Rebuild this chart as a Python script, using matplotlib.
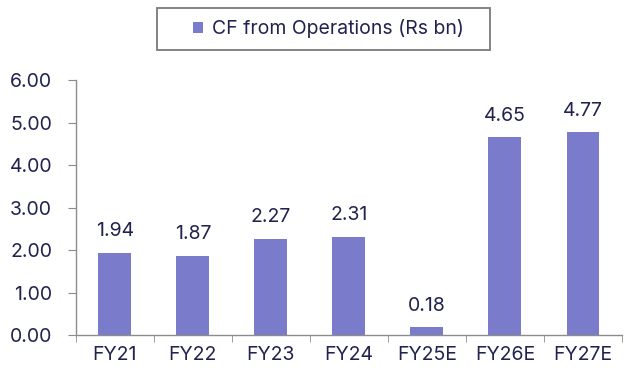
import matplotlib
matplotlib.use("Agg")
import matplotlib.pyplot as plt
from matplotlib.ticker import FixedLocator, NullFormatter
from matplotlib.patches import Patch, Rectangle

categories = ["FY21", "FY22", "FY23", "FY24", "FY25E", "FY26E", "FY27E"]
cfo = [1.94, 1.87, 2.27, 2.31, 0.18, 4.65, 4.77]
yticks = [0, 1, 2, 3, 4, 5, 6]

bar_color = "#7B7BCB"
text_color = "#22224E"
axis_color = "#8C8C8C"
fs = 14

plt.rcParams["font.family"] = ["Inter", "DejaVu Sans"]

fig = plt.figure(figsize=(6.32, 3.76), dpi=100)
ax = fig.add_axes([0.120, 0.109, 0.864, 0.678])

x = list(range(len(categories)))
ax.bar(x, cfo, width=0.42, color=bar_color, zorder=2)
for xi, v in zip(x, cfo):
    ax.annotate(f"{v:.2f}", (xi, v), xytext=(0, 12), textcoords="offset points",
                ha="center", va="baseline", fontsize=fs, color=text_color)

ax.set_xlim(-0.5, len(categories) - 0.5)
ax.set_ylim(0, 6)
ax.set_yticks(yticks)
ax.set_yticklabels([f"{t:.2f}" for t in yticks])

ax.set_xticks(x)
ax.set_xticklabels(categories)
ax.tick_params(axis="x", which="major", length=0, pad=8,
               labelsize=fs, labelcolor=text_color)
ax.xaxis.set_minor_locator(FixedLocator([i + 0.5 for i in range(-1, len(categories))]))
ax.xaxis.set_minor_formatter(NullFormatter())
ax.tick_params(axis="x", which="minor", length=5, color=axis_color, direction="out")
ax.tick_params(axis="y", length=6, color=axis_color, labelsize=fs,
               labelcolor=text_color, pad=11)

for side in ("top", "right"):
    ax.spines[side].set_visible(False)
for side in ("left", "bottom"):
    ax.spines[side].set_color(axis_color)
    ax.spines[side].set_linewidth(1.0)

# legend frame drawn separately so the entry can sit off-centre inside it
fig.patches.append(Rectangle((0.2484, 0.867), 0.5269, 0.1117,
                             transform=fig.transFigure, fill=False,
                             edgecolor="#7A7A7A", linewidth=1.3))
handle = Patch(facecolor=bar_color, edgecolor="none")
fig.legend([handle], ["CF from Operations (Rs bn)"],
           loc="center left", bbox_to_anchor=(0.305, 0.923),
           frameon=False, fontsize=fs, borderpad=0, borderaxespad=0,
           handlelength=0.55, handleheight=0.55, handletextpad=0.45,
           labelcolor=text_color)

fig.savefig("out.png", dpi=100, facecolor="white")
